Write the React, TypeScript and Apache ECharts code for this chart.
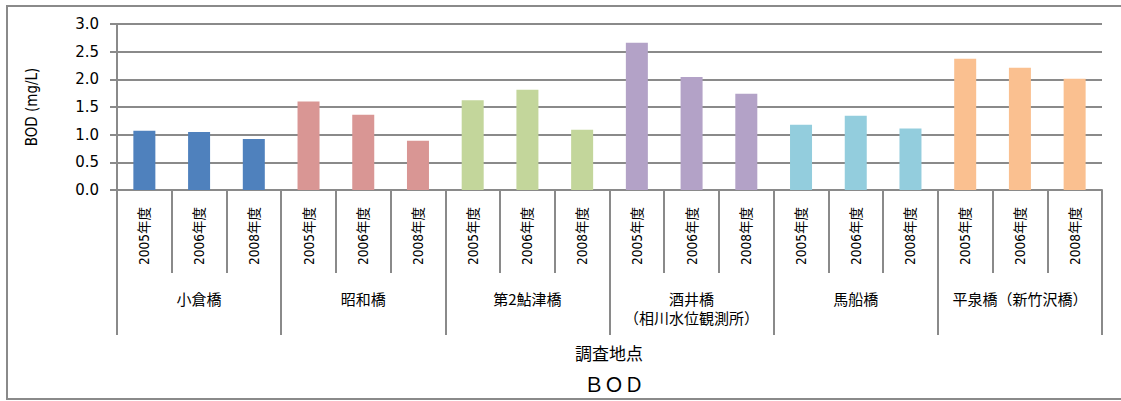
import React, { useEffect, useRef } from "react";
import * as echarts from "echarts";

const groups = [
  "小倉橋",
  "昭和橋",
  "第2鮎津橋",
  "酒井橋\n（相川水位観測所）",
  "馬船橋",
  "平泉橋（新竹沢橋）",
];
const years = ["2005年度", "2006年度", "2008年度"];
const ogura = [1.07, 1.05, 0.92];
const showa = [1.6, 1.36, 0.89];
const ayutsu = [1.62, 1.81, 1.09];
const sakai = [2.66, 2.04, 1.74];
const mafune = [1.18, 1.34, 1.11];
const hiraizumi = [2.37, 2.21, 2.01];
const groupValues = [ogura, showa, ayutsu, sakai, mafune, hiraizumi];
const groupColors = ["#4F81BD", "#D99694", "#C3D69B", "#B3A2C7", "#93CDDD", "#FAC090"];
const yTicks = [0, 0.5, 1.0, 1.5, 2.0, 2.5, 3.0];

const narrow = "'Liberation Sans Narrow', 'DejaVu Sans Condensed', 'Liberation Sans', 'Noto Sans CJK JP', sans-serif";
const cjk = "'Noto Sans CJK JP', sans-serif";

export default function App() {
  const ref = useRef<HTMLDivElement>(null);
  useEffect(() => {
    if (!ref.current) return;
    const chart = echarts.init(ref.current, null, { renderer: "svg" });
    const categories: string[] = [];
    const data: any[] = [];
    groups.forEach((g, gi) => {
      years.forEach((y, yi) => {
        categories.push(y);
        data.push({ value: groupValues[gi][yi], itemStyle: { color: groupColors[gi] } });
      });
    });
    const gray = "#8a8a8a";
    chart.setOption({
      animation: false,
      backgroundColor: "#ffffff",
      grid: { left: 117, right: 19, top: 24, bottom: 211, containLabel: false },
      graphic: [
        {
          type: "rect",
          shape: { x: 7, y: 6, width: 1130, height: 393 },
          style: { fill: "none", stroke: gray, lineWidth: 2 },
          silent: true,
          z: -1,
        },
        {
          type: "text",
          x: 609,
          y: 352,
          style: {
            text: "調査地点",
            font: "17px " + cjk,
            fill: "#000",
            textAlign: "center",
            textVerticalAlign: "middle",
          },
        },
        {
          type: "text",
          x: 614,
          y: 383,
          style: {
            text: "ＢＯＤ",
            font: "20px " + cjk,
            fill: "#000",
            textAlign: "center",
            textVerticalAlign: "middle",
          },
        },
      ],
      xAxis: [
        {
          type: "category",
          data: categories,
          position: "bottom",
          axisLine: { show: true, lineStyle: { color: gray, width: 2 } },
          axisTick: { show: true, interval: 0, length: 83, lineStyle: { color: gray, width: 2 } },
          axisLabel: {
            interval: 0,
            rotate: 90,
            margin: 17,
            fontSize: 13.5,
            fontFamily: narrow,
            color: "#000",
          },
          splitLine: { show: false },
        },
        {
          type: "category",
          data: groups,
          position: "bottom",
          axisLine: { show: false },
          axisTick: { show: true, interval: 0, length: 145, lineStyle: { color: gray, width: 2 } },
          axisLabel: {
            interval: 0,
            margin: 99,
            fontSize: 15,
            lineHeight: 19,
            fontFamily: cjk,
            color: "#000",
            verticalAlign: "top",
          },
          splitLine: { show: false },
        },
      ],
      yAxis: {
        type: "value",
        min: yTicks[0],
        max: yTicks[yTicks.length - 1],
        interval: 0.5,
        name: "BOD (mg/L)",
        nameLocation: "middle",
        nameGap: 78,
        nameRotate: 90,
        nameTextStyle: { fontSize: 15, fontFamily: narrow, color: "#000" },
        axisLine: { show: true, lineStyle: { color: gray, width: 2 } },
        axisTick: { show: true, length: 7, lineStyle: { color: gray, width: 2 } },
        axisLabel: {
          margin: 18,
          fontSize: 15,
          fontFamily: "'DejaVu Sans', sans-serif",
          color: "#000",
          formatter: (v: number) => v.toFixed(1),
        },
        splitLine: { show: true, lineStyle: { color: gray, width: 2 } },
      },
      series: [
        {
          type: "bar",
          xAxisIndex: 0,
          data,
          barWidth: 22,
        },
      ],
    });
    return () => chart.dispose();
  }, []);
  return (
    <div
      ref={ref}
      style={{ position: "absolute", left: 0, top: 0, width: 1121, height: 401 }}
    />
  );
}
